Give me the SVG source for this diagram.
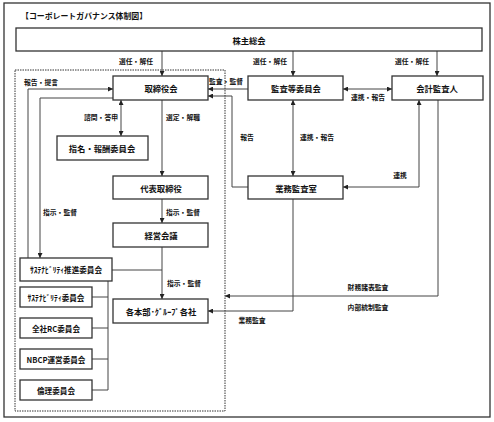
<svg xmlns="http://www.w3.org/2000/svg" width="494" height="422" viewBox="0 0 494 422">
<defs>
<marker id="ah" markerUnits="userSpaceOnUse" markerWidth="5" markerHeight="5" refX="5" refY="2.5" orient="auto-start-reverse">
<path d="M0,0 L5,2.5 L0,5 z" fill="#222"/>
</marker>
<style>
.box{fill:#fff;stroke:#333;stroke-width:1.3}
.frame{fill:none;stroke:#333;stroke-width:1.3}
.dot{fill:none;stroke:#333;stroke-width:1;stroke-dasharray:1.5 1}
.c{fill:none;stroke:#444;stroke-width:1}
.a{marker-end:url(#ah)}
.b{marker-start:url(#ah);marker-end:url(#ah)}
text{font-family:"Noto Sans CJK JP","Noto Sans",sans-serif;font-weight:bold;fill:#111;dominant-baseline:central}
.t{font-size:8.3px;text-anchor:middle}
.s{font-size:7.6px;text-anchor:middle}
.l{font-size:6.8px;text-anchor:middle}
.ttl{font-size:7.9px}
</style>
</defs>
<rect class="frame" x="4" y="3" width="486" height="414"/>
<text class="ttl" x="21" y="15">【コーポレートガバナンス体制図】</text>
<rect class="dot" x="15" y="70" width="210" height="341"/>

<g id="connectors">
<path class="c a" d="M162,51 V76"/>
<path class="c a" d="M293,51 V76"/>
<path class="c a" d="M437,51 V76"/>
<path class="c a" d="M248,89 H208"/>
<path class="c a" d="M248,187 H232 V96 H208"/>
<path class="c b" d="M343,89 H392"/>
<path class="c b" d="M293,100 V176"/>
<path class="c b" d="M419,100 V187 H343"/>
<path class="c a" d="M438,100 V296 H225"/>
<path class="c a" d="M293,199 V311 H208"/>
<path class="c a" d="M162,100 V176"/>
<path class="c a" d="M162,199 V223"/>
<path class="c a" d="M162,247 V299"/>
<path class="c" d="M112,270 H162"/>
<path class="c b" d="M121,100 V136"/>
<path class="c a" d="M28,258 V89 H113"/>
<path class="c a" d="M113,98 H40 V258"/>
<path class="c" d="M108,281 V390 M92,297 H108 M92,328 H108 M92,359 H108 M92,390 H108"/>
<text class="l" x="136" y="61">選任・解任</text>
<text class="l" x="270" y="61">選任・解任</text>
<text class="l" x="412" y="61">選任・解任</text>
<text class="l" x="226" y="81">監査・監督</text>
<text class="l" x="368" y="97">連携・報告</text>
<text class="l" x="247" y="137">報告</text>
<text class="l" x="317" y="137">連携・報告</text>
<text class="l" x="400" y="175">連携</text>
<text class="l" x="368" y="287">財務諸表監査</text>
<text class="l" x="368" y="307">内部統制監査</text>
<text class="l" x="252" y="320">業務監査</text>
<text class="l" x="183" y="117">選定・解職</text>
<text class="l" x="183" y="212">指示・監督</text>
<text class="l" x="184" y="283">指示・監督</text>
<text class="l" x="101" y="117">諮問・答申</text>
<text class="l" x="41" y="82">報告・提言</text>
<text class="l" x="60" y="212">指示・監督</text>
</g>

<g id="n-kabunushi"><rect class="box" x="16" y="28" width="466" height="23"/><text class="t" x="249" y="39.5">株主総会</text></g>
<g id="n-torishimariyaku"><rect class="box" x="113" y="76" width="95" height="24"/><text class="t" x="161" y="88">取締役会</text></g>
<g id="n-kansa"><rect class="box" x="248" y="76" width="95" height="24"/><text class="t" x="296" y="88">監査等委員会</text></g>
<g id="n-kaikei"><rect class="box" x="392" y="76" width="91" height="24"/><text class="t" x="437" y="88">会計監査人</text></g>
<g id="n-shimei"><rect class="box" x="57" y="136" width="91" height="24"/><text class="t" x="102" y="148">指名・報酬委員会</text></g>
<g id="n-daihyo"><rect class="box" x="113" y="176" width="95" height="23"/><text class="t" x="161" y="187.5">代表取締役</text></g>
<g id="n-gyomu"><rect class="box" x="248" y="176" width="95" height="23"/><text class="t" x="296" y="187.5">業務監査室</text></g>
<g id="n-keiei"><rect class="box" x="113" y="223" width="95" height="24"/><text class="t" x="161" y="235">経営会議</text></g>
<g id="n-suishin"><rect class="box" x="20" y="258" width="92" height="23"/><text class="s" x="66" y="269.5">ｻｽﾃﾅﾋﾞﾘﾃｨ推進委員会</text></g>
<g id="n-honbu"><rect class="box" x="113" y="299" width="95" height="24"/><text class="t" x="161" y="311">各本部･ｸﾞﾙｰﾌﾟ各社</text></g>
<g id="n-sustain"><rect class="box" x="20" y="287" width="72" height="20"/><text class="s" x="56" y="297">ｻｽﾃﾅﾋﾞﾘﾃｨ委員会</text></g>
<g id="n-rc"><rect class="box" x="20" y="318" width="72" height="20"/><text class="s" x="56" y="328">全社RC委員会</text></g>
<g id="n-nbcp"><rect class="box" x="20" y="349" width="72" height="20"/><text class="s" x="56" y="359">NBCP運営委員会</text></g>
<g id="n-rinri"><rect class="box" x="20" y="380" width="72" height="20"/><text class="s" x="56" y="390">倫理委員会</text></g>
</svg>
